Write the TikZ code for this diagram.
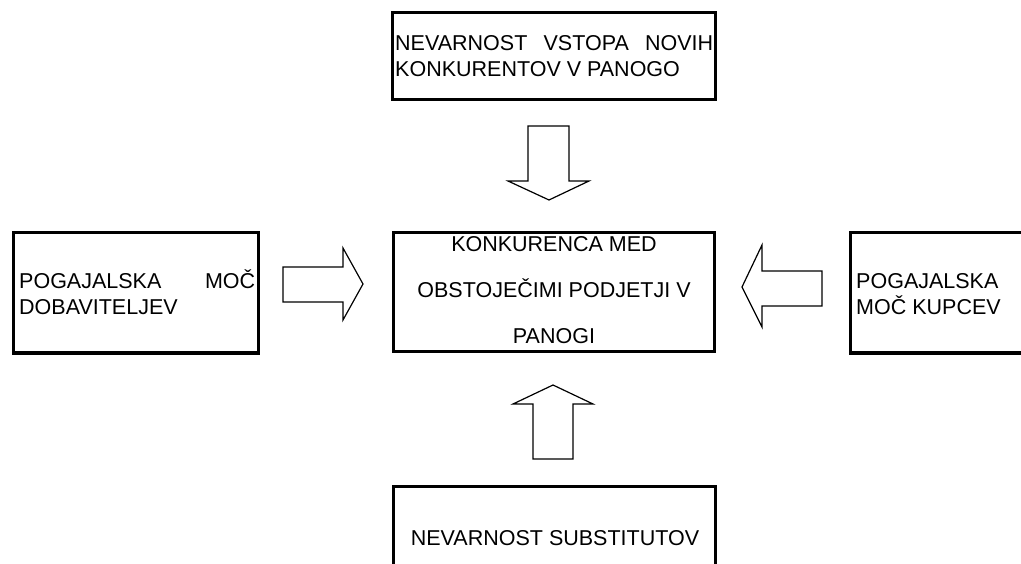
\documentclass[tikz,border=0pt]{standalone}
\usepackage{fontspec}
\setmainfont{Liberation Sans}
\begin{document}
\begin{tikzpicture}[x=1pt,y=-1pt,
  box/.style={draw,line width=3pt,rectangle,inner sep=0pt,outer sep=0pt,anchor=north west},
  lbl/.style={inner sep=0pt,font=\fontsize{21.5}{25}\selectfont},
  barrow/.style={draw,line width=1.2pt,line join=miter}]
\useasboundingbox (0,0) rectangle (1021,564);
\clip (0,0) rectangle (1021,564);
% boxes
\node[box,minimum width=323pt,minimum height=87pt] (threat) at (392,13) {};
\node[box,minimum width=245pt,minimum height=120pt] (supp) at (13,233) {};
\node[box,minimum width=321pt,minimum height=119pt] (comp) at (393,233) {};
\node[box,minimum width=200pt,minimum height=120pt] (buy) at (850,233) {};
\node[box,minimum width=322pt,minimum height=100pt] (subst) at (393,486) {};
% texts
\node[lbl,anchor=base west] (th1) at (395,51) {\hbox to 318pt{NEVARNOST\hfill VSTOPA\hfill NOVIH}};
\node[lbl,anchor=base west] (th2) at (395,77) {KONKURENTOV V PANOGO};
\node[lbl,anchor=base west] (su1) at (19,289) {\hbox to 236pt{POGAJALSKA\hfill MOČ}};
\node[lbl,anchor=base west] (su2) at (19,315) {DOBAVITELJEV};
\node[lbl,anchor=base west] (bu1) at (856,289) {POGAJALSKA};
\node[lbl,anchor=base west] (bu2) at (856,315) {MOČ KUPCEV};
\node[lbl,anchor=base] (co1) at (554,252) {KONKURENCA MED};
\node[lbl,anchor=base] (co2) at (554,298) {OBSTOJEČIMI PODJETJI V};
\node[lbl,anchor=base] (co3) at (554,344) {PANOGI};
\node[lbl,anchor=base] (sb1) at (555,545) {NEVARNOST SUBSTITUTOV};
% block arrows
\draw[barrow] (528,126) -- (569,126) -- (569,181) -- (589,181) -- (549,200) -- (508,181) -- (528,181) -- cycle;
\draw[barrow] (283,267) -- (343,267) -- (343,248) -- (363,284) -- (343,320) -- (343,302) -- (283,302) -- cycle;
\draw[barrow] (822,271) -- (762,271) -- (762,245) -- (742,287) -- (762,327) -- (762,306) -- (822,306) -- cycle;
\draw[barrow] (533,459) -- (533,404) -- (513,404) -- (553,385) -- (593,404) -- (573,404) -- (573,459) -- cycle;
\end{tikzpicture}
\end{document}
